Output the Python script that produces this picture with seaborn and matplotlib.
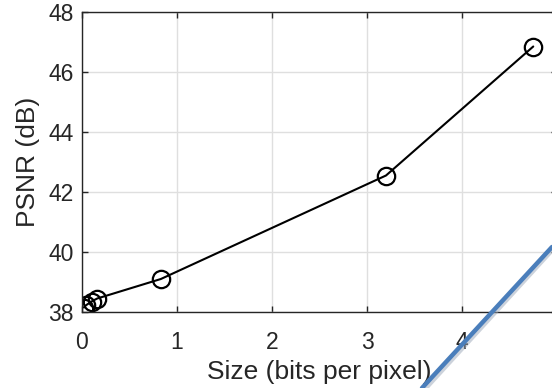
import numpy as np
import pandas as pd
import matplotlib
matplotlib.use("Agg")
import matplotlib.pyplot as plt
from matplotlib.lines import Line2D
import seaborn as sns

# rate-distortion points
size_bpp = [0.02, 0.04, 0.10, 0.16, 0.83, 3.20, 4.75]
psnr_db = [38.15, 38.22, 38.35, 38.45, 39.10, 42.55, 46.85]
x_ticks = [0, 1, 2, 3, 4, 5]
y_ticks = [38, 40, 42, 44, 46, 48]

df = pd.DataFrame({"size": size_bpp, "psnr": psnr_db})

sns.set_style("whitegrid")
plt.rcParams['font.family'] = ['Liberation Sans', 'DejaVu Sans']

fig = plt.figure(figsize=(5.52, 3.88), dpi=100)
ax = fig.add_axes([82 / 552, 1 - 312 / 388, 475 / 552, 300 / 388])

sns.lineplot(data=df, x="size", y="psnr", ax=ax, color="black", lw=1.5,
             marker="o", markersize=12.5, markerfacecolor="none",
             markeredgecolor="black", markeredgewidth=1.6, sort=False)

ax.set_xlim(0, 5)
ax.set_ylim(38, 48)
ax.set_xticks(x_ticks)
ax.set_yticks(y_ticks)
ax.grid(True, color="#dfdfdf", lw=1.0)
ax.set_facecolor("white")
for s in ax.spines.values():
    s.set_color("#262626")
    s.set_linewidth(1.0)
ax.tick_params(direction="in", length=4, width=1, color="#262626",
               labelsize=16.5, labelcolor="#262626", top=True, right=True,
               bottom=True, left=True, pad=6)
ax.tick_params(axis="x", pad=14)
ax.set_xlabel("Size (bits per pixel)", fontsize=19, color="#262626", labelpad=4)
ax.set_ylabel("PSNR (dB)", fontsize=19, color="#262626", labelpad=6)

# blue connector line crossing the corner
fig.add_artist(Line2D([423 / 552 + 0.003, 1.003], [-0.004, 1 - 247 / 388 - 0.004],
                      transform=fig.transFigure, color="#9aa7b8", lw=3.2, alpha=0.5))
fig.add_artist(Line2D([422 / 552, 1.0], [0, 1 - 247 / 388],
                      transform=fig.transFigure, color="#4a7ebb", lw=3.2))

fig.savefig("out.png", dpi=100)
